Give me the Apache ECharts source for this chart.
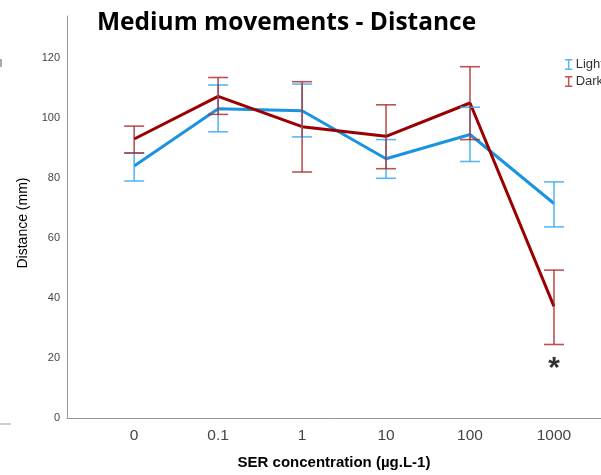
<!DOCTYPE html>
<html>
<head>
<meta charset="utf-8">
<script src="https://cdn.jsdelivr.net/npm/echarts@6/dist/echarts.min.js"></script>
<style>
  html, body { margin: 0; padding: 0; background: #fff; }
  #chart { width: 601px; height: 475px; }
</style>
</head>
<body>
<div id="chart"></div>
<script>
// SER concentration groups (µg.L-1)
var categories = ['0', '0.1', '1', '10', '100', '1000'];

// Mean distance (mm) and error bar limits per group
var lightMean  = [84.0, 103.1, 102.4, 86.4, 94.5, 71.5];
var lightUpper = [88.4, 111.0, 111.3, 92.8, 103.6, 78.7];
var lightLower = [79.0, 95.4, 93.7, 79.9, 85.5, 63.7];

var darkMean  = [93.0, 107.2, 97.1, 93.9, 105.0, 37.2];
var darkUpper = [97.3, 113.5, 112.1, 104.4, 117.1, 49.3];
var darkLower = [88.3, 101.2, 82.0, 83.1, 92.8, 24.5];

var yTicks = [0, 20, 40, 60, 80, 100, 120];

// Significance marker placed under the 1000 group
var starIndex = 5;
var starValue = 19;

var lightColor = '#1a94e0';
var lightBarColor = 'rgba(60,170,240,0.85)';
var darkColor = '#9b0000';
var darkBarColor = 'rgba(170,40,40,0.8)';

var idx = categories.map(function (c, i) { return i; });

function pairs(values) {
  return values.map(function (v, i) { return [i, v]; });
}

function errorData(lower, upper) {
  return lower.map(function (lo, i) { return [i, lo, upper[i]]; });
}

function errorBarRenderer(color) {
  return function (params, api) {
    var x = api.value(0);
    var lo = api.coord([x, api.value(1)]);
    var hi = api.coord([x, api.value(2)]);
    var half = 10;
    var style = { stroke: color, lineWidth: 1.6, fill: null };
    return {
      type: 'group',
      children: [
        { type: 'line', shape: { x1: hi[0], y1: hi[1], x2: lo[0], y2: lo[1] }, style: style },
        { type: 'line', shape: { x1: hi[0] - half, y1: hi[1], x2: hi[0] + half, y2: hi[1] }, style: style },
        { type: 'line', shape: { x1: lo[0] - half, y1: lo[1], x2: lo[0] + half, y2: lo[1] }, style: style }
      ]
    };
  };
}

var iBeam = 'path://M0,0H8V1.6H4.8V10.4H8V12H0V10.4H3.2V1.6H0Z';

var chart = echarts.init(document.getElementById('chart'), null, { renderer: 'canvas' });

chart.setOption({
  animation: false,
  backgroundColor: '#fff',
  title: {
    text: 'Medium movements - Distance',
    left: 92,
    top: 6,
    textStyle: { fontFamily: 'Open Sans', fontWeight: 'bold', fontSize: 24.5, color: '#000' }
  },
  legend: {
    orient: 'vertical',
    left: 560,
    top: 53,
    itemWidth: 8,
    itemHeight: 11,
    itemGap: 4,
    data: [
      { name: 'Light', icon: iBeam, itemStyle: { color: lightBarColor } },
      { name: 'Dark', icon: iBeam, itemStyle: { color: darkBarColor } }
    ],
    textStyle: { fontFamily: 'Liberation Sans', fontSize: 13, color: '#333', padding: [0, 0, 0, -2] }
  },
  grid: { left: 67, top: 16, right: 0, bottom: 55, containLabel: false },
  xAxis: {
    type: 'value',
    min: -0.8,
    max: 5.56,
    name: 'SER concentration (µg.L-1)',
    nameLocation: 'middle',
    nameGap: 37,
    nameTextStyle: { fontFamily: 'Liberation Sans', fontWeight: 'bold', fontSize: 15, color: '#000' },
    axisLine: { show: true, onZero: false, lineStyle: { color: '#999', width: 1 } },
    axisTick: { show: false },
    splitLine: { show: false },
    axisLabel: {
      customValues: idx,
      formatter: function (v) { return categories[Math.round(v)]; },
      fontFamily: 'Liberation Sans',
      fontSize: 15.5,
      color: '#444',
      margin: 10
    }
  },
  yAxis: {
    type: 'value',
    min: 0,
    max: 134,
    name: 'Distance (mm)',
    nameLocation: 'middle',
    nameGap: 37,
    nameTextStyle: { fontFamily: 'Liberation Sans', fontSize: 14, color: '#000', padding: [0, 12, 0, 0] },
    axisLine: { show: true, onZero: false, lineStyle: { color: '#999', width: 1 } },
    axisTick: { show: false },
    splitLine: { show: false },
    axisLabel: {
      customValues: yTicks,
      fontFamily: 'Liberation Sans',
      fontSize: 11,
      color: '#444',
      margin: 7
    }
  },
  graphic: [
    { type: 'line', shape: { x1: 0, y1: 424, x2: 11, y2: 424 }, style: { stroke: '#999', lineWidth: 1 } },
    { type: 'line', shape: { x1: 1, y1: 59, x2: 1, y2: 67 }, style: { stroke: '#555', lineWidth: 1 } }
  ],
  series: [
    {
      name: 'Light',
      type: 'line',
      data: pairs(lightMean),
      symbol: 'none',
      lineStyle: { color: lightColor, width: 3 },
      itemStyle: { color: lightColor },
      z: 3
    },
    {
      name: 'Dark',
      type: 'line',
      data: pairs(darkMean),
      symbol: 'none',
      lineStyle: { color: darkColor, width: 3 },
      itemStyle: { color: darkColor },
      z: 4
    },
    {
      name: 'Light',
      type: 'custom',
      renderItem: errorBarRenderer(lightBarColor),
      data: errorData(lightLower, lightUpper),
      encode: { x: 0, y: [1, 2] },
      z: 5
    },
    {
      name: 'Dark',
      type: 'custom',
      renderItem: errorBarRenderer(darkBarColor),
      data: errorData(darkLower, darkUpper),
      encode: { x: 0, y: [1, 2] },
      z: 6
    },
    {
      type: 'scatter',
      data: [[starIndex, starValue]],
      symbolSize: 1,
      itemStyle: { color: 'rgba(0,0,0,0)' },
      silent: true,
      label: {
        show: true,
        position: 'inside',
        formatter: '*',
        fontFamily: 'Liberation Sans',
        fontWeight: 'bold',
        fontSize: 30,
        color: '#000',
        offset: [0, 8]
      },
      z: 7
    }
  ]
});
</script>
</body>
</html>
